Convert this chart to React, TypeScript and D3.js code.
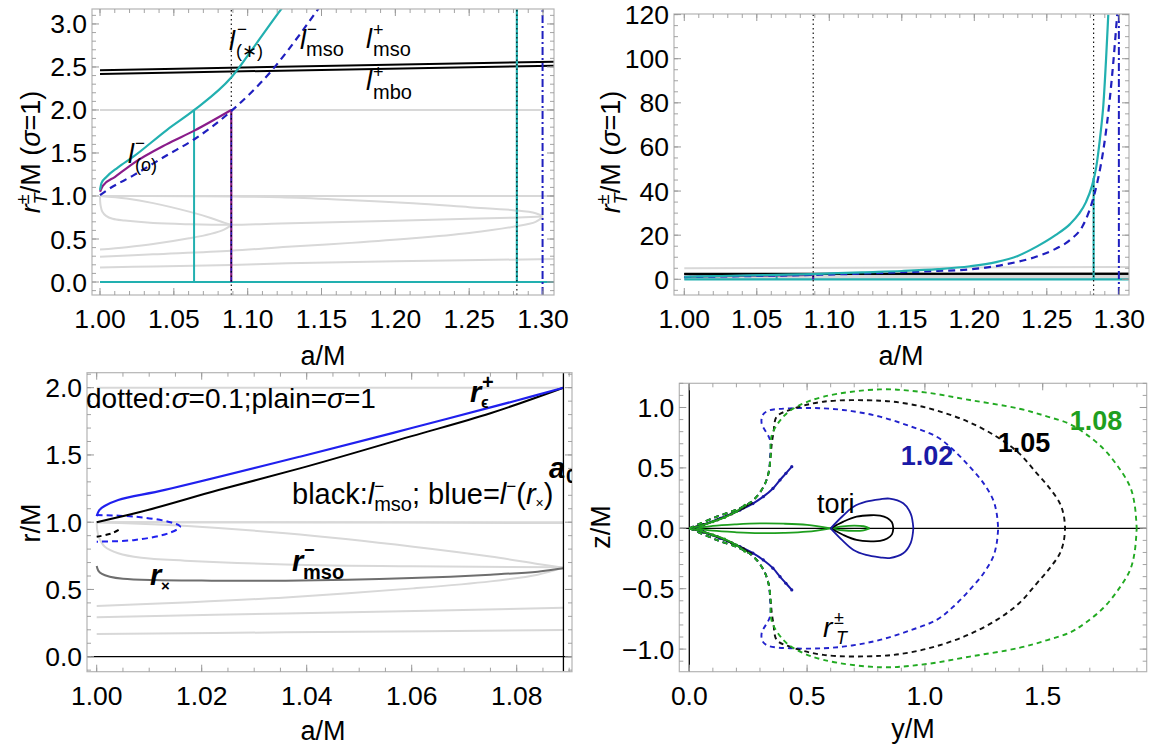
import React from "react";
import * as d3 from "d3";

type Pt = [number, number];
const zip = (xs: number[], ys: number[]): Pt[] => xs.map((x, i) => [x, ys[i]]);

// ---------------- Top panels: r_T/M (sigma=1) vs a/M ----------------
const aCyan = [1.0, 1.001, 1.0045, 1.012, 1.0226, 1.0452, 1.0639, 1.089, 1.106, 1.1226, 1.15, 1.175, 1.197, 1.215, 1.23, 1.243, 1.256, 1.266, 1.272, 1.277, 1.281, 1.284, 1.2867, 1.289, 1.2924];
const rCyan = [1.07, 1.15, 1.224, 1.33, 1.457, 1.767, 2.0, 2.38, 2.775, 3.17, 3.75, 4.6, 5.9, 7.8, 10.6, 14.8, 20.0, 25.0, 29.5, 35.0, 42.0, 50.5, 64.0, 79.0, 120.0];
const aDash = [1.0, 1.005, 1.0226, 1.045, 1.0639, 1.089, 1.1166, 1.1354, 1.1476, 1.175, 1.197, 1.22, 1.243, 1.256, 1.266, 1.275, 1.281, 1.285, 1.289, 1.2925, 1.296, 1.2986];
const rDash = [1.01, 1.07, 1.24, 1.47, 1.66, 1.99, 2.465, 2.88, 3.17, 3.8, 4.5, 6.6, 10.3, 13.8, 17.8, 24.5, 34.4, 44.5, 58.6, 76.0, 99.4, 120.5];
const aPurple = [1.0, 1.002, 1.01, 1.0226, 1.045, 1.0639, 1.0889];
const rPurple = [1.05, 1.12, 1.22, 1.38, 1.6, 1.76, 2.0];
const aLplus = [1.0, 1.3074];
const rLmsoPlus = [2.462, 2.562];
const rLmboPlus = [2.419, 2.515];
const a0 = 1.0889;
const aCyanJump = 1.0637;
const aCyanEnd = 1.2823;
const rCyanEnd = 46;
const aDashEnd = 1.2997;

// light gray reference curves (shared by the a/M panels)
const grayLevels = [1.0, 2.0];
const grayAa = [1.0, 1.03, 1.06, 1.09, 1.122, 1.16, 1.212, 1.25, 1.28, 1.295, 1.3];
const grayAr = [1.0, 0.999, 0.997, 0.993, 0.985, 0.96, 0.915, 0.87, 0.835, 0.8, 0.762];
const grayBa = [1.0, 1.018, 1.036, 1.0603, 1.075, 1.084, 1.0889];
const grayBr = [1.0, 0.97, 0.917, 0.818, 0.745, 0.69, 0.662];
const grayCa = [1.0, 1.0001, 1.0004, 1.0015, 1.0041, 1.0085, 1.0168, 1.036, 1.06, 1.0889, 1.122, 1.2, 1.25, 1.28, 1.3];
const grayCr = [1.0, 0.94, 0.89, 0.82, 0.769, 0.735, 0.714, 0.686, 0.672, 0.665, 0.68, 0.712, 0.735, 0.748, 0.762];
const grayDa = [1.0, 1.018, 1.036, 1.0603, 1.075, 1.084, 1.0889];
const grayDr = [0.377, 0.405, 0.441, 0.508, 0.56, 0.61, 0.662];
const grayEa = [1.0, 1.036, 1.0889, 1.127, 1.17, 1.212, 1.25, 1.28, 1.295, 1.3];
const grayEr = [0.293, 0.322, 0.364, 0.41, 0.455, 0.508, 0.57, 0.643, 0.7, 0.762];
const grayFa = [1.0, 1.036, 1.0889, 1.127, 1.2, 1.3074];
const grayFr = [0.169, 0.181, 0.198, 0.217, 0.24, 0.268];
const grayGa = [1.0, 1.3067];
const grayGr = [5.0, 5.6];

// ---------------- Bottom-left panel: r/M vs a/M ----------------
const rxA = [1.0, 1.0003, 1.001, 1.0025, 1.005, 1.011, 1.02, 1.036, 1.06, 1.075, 1.084, 1.0889];
const rxR = [0.674, 0.64, 0.615, 0.595, 0.58, 0.57, 0.566, 0.565, 0.585, 0.61, 0.632, 0.657];
const blueA = [1.0, 1.0005, 1.0015, 1.0041, 1.013, 1.0387, 1.06, 1.08, 1.0889];
const blueR = [1.045, 1.09, 1.12, 1.165, 1.24, 1.487, 1.7, 1.905, 2.0];
const blackA = [1.0, 1.0073, 1.0232, 1.0387, 1.06, 1.075, 1.0889];
const blackR = [1.0, 1.066, 1.239, 1.4, 1.64, 1.81, 2.0];
const loopA = [1.0, 1.0073, 1.0136, 1.0159, 1.0136, 1.0073, 1.0];
const loopR = [1.053, 1.041, 1.004, 0.967, 0.917, 0.868, 0.855];
const smallA = [1.0, 1.0029, 1.0046];
const smallR = [0.892, 0.917, 0.952];

// ---------------- Bottom-right panel: z/M vs y/M (upper halves) ----------------
const d102y = [0, 0.116, 0.215, 0.272, 0.315, 0.336, 0.343, 0.3425, 0.307, 0.312, 0.335, 0.427, 0.569, 0.69, 0.809, 0.93, 1.05, 1.12, 1.19, 1.25, 1.29, 1.305, 1.311];
const d102z = [0, 0.096, 0.166, 0.234, 0.344, 0.455, 0.593, 0.731, 0.869, 0.938, 0.973, 0.993, 0.993, 0.97, 0.924, 0.85, 0.758, 0.65, 0.51, 0.37, 0.234, 0.12, 0];
const d105y = [0, 0.116, 0.215, 0.272, 0.315, 0.336, 0.345, 0.35, 0.357, 0.371, 0.427, 0.569, 0.81, 0.93, 1.05, 1.18, 1.305, 1.4, 1.475, 1.53, 1.573, 1.59, 1.595];
const d105z = [0, 0.096, 0.166, 0.234, 0.344, 0.455, 0.59, 0.7, 0.786, 0.924, 0.98, 1.048, 1.056, 1.03, 0.975, 0.885, 0.758, 0.62, 0.455, 0.33, 0.207, 0.1, 0];
const d108y = [0, 0.116, 0.215, 0.272, 0.315, 0.336, 0.345, 0.35, 0.399, 0.456, 0.569, 0.809, 1.0, 1.191, 1.4, 1.52, 1.616, 1.68, 1.757, 1.82, 1.871, 1.89, 1.899];
const d108z = [0, 0.096, 0.166, 0.234, 0.344, 0.455, 0.59, 0.77, 0.924, 1.007, 1.089, 1.15, 1.125, 1.062, 0.99, 0.925, 0.862, 0.785, 0.66, 0.51, 0.344, 0.2, 0];
const m102y = [0, 0.06, 0.131, 0.215, 0.27, 0.314, 0.355, 0.385, 0.41, 0.435];
const m102z = [0, 0.03, 0.083, 0.151, 0.205, 0.262, 0.33, 0.4, 0.455, 0.51];
const m105y = [0, 0.06, 0.12, 0.18, 0.23, 0.262];
const m105z = [0, 0.03, 0.07, 0.12, 0.17, 0.21];
const m108y = [0, 0.05, 0.1, 0.15, 0.2, 0.236];
const m108z = [0, 0.022, 0.055, 0.09, 0.14, 0.19];
const t108ay = [0.03, 0.1, 0.2, 0.3, 0.4, 0.5, 0.6];
const t108az = [0, 0.02, 0.033, 0.04, 0.038, 0.028, 0];
const t108by = [0.6, 0.65, 0.7, 0.74, 0.765];
const t108bz = [0, 0.016, 0.022, 0.017, 0];
const t105y = [0.6, 0.654, 0.71, 0.77, 0.81, 0.84, 0.86, 0.866];
const t105z = [0, 0.055, 0.096, 0.108, 0.105, 0.085, 0.05, 0];
const t102y = [0.6, 0.65, 0.697, 0.75, 0.809, 0.85, 0.908, 0.94, 0.951];
const t102z = [0, 0.1, 0.179, 0.22, 0.24, 0.246, 0.207, 0.12, 0];

const FONT = "'Liberation Sans', Arial, Helvetica, sans-serif";
const TICKFS = 26.5;
const CYAN = "#22b0b0";
const PURPLE = "#8a1c8a";
const DBLUE = "#1f1fbf";
const GRAY = "#d8d8d8";
const GREEN = "#1f9f1f";
const NAVY = "#1a1aa6";

function tickVals(lo: number, hi: number, step: number) {
  const out: number[] = [];
  const n0 = Math.ceil(lo / step - 1e-9);
  const n1 = Math.floor(hi / step + 1e-9);
  for (let i = n0; i <= n1; i++) out.push(+(i * step).toFixed(6));
  return out;
}

type Sc = d3.ScaleLinear<number, number>;

function Frame(props: { sx: Sc; sy: Sc; xMaj: number; xMin: number; yMaj: number; yMin: number; xFmt: string; yFmt: string }) {
  const { sx, sy, xMaj, xMin, yMaj, yMin } = props;
  const [x0, x1] = sx.range();
  const [y0, y1] = sy.range();
  const [dx0, dx1] = sx.domain();
  const [dy0, dy1] = sy.domain();
  const fx = d3.format(props.xFmt);
  const fy = d3.format(props.yFmt);
  const majX = tickVals(dx0, dx1, xMaj);
  const minX = tickVals(dx0, dx1, xMin);
  const majY = tickVals(dy0, dy1, yMaj);
  const minY = tickVals(dy0, dy1, yMin);
  const tc = "#9a9a9a";
  const L = 7, l = 4;
  return (
    <g>
      <rect x={x0} y={y1} width={x1 - x0} height={y0 - y1} fill="none" stroke="#b4b4b4" strokeWidth={1.2} />
      {minX.map((v, i) => (
        <g key={"mx" + i} stroke={tc} strokeWidth={0.9}>
          <line x1={sx(v)} x2={sx(v)} y1={y0} y2={y0 - l} />
          <line x1={sx(v)} x2={sx(v)} y1={y1} y2={y1 + l} />
        </g>
      ))}
      {majX.map((v, i) => (
        <g key={"Mx" + i}>
          <line x1={sx(v)} x2={sx(v)} y1={y0} y2={y0 - L} stroke={tc} strokeWidth={1} />
          <line x1={sx(v)} x2={sx(v)} y1={y1} y2={y1 + L} stroke={tc} strokeWidth={1} />
          <text x={sx(v)} y={y0 + 33} textAnchor="middle" fontSize={TICKFS}>{fx(v)}</text>
        </g>
      ))}
      {minY.map((v, i) => (
        <g key={"my" + i} stroke={tc} strokeWidth={0.9}>
          <line y1={sy(v)} y2={sy(v)} x1={x0} x2={x0 + l} />
          <line y1={sy(v)} y2={sy(v)} x1={x1} x2={x1 - l} />
        </g>
      ))}
      {majY.map((v, i) => (
        <g key={"My" + i}>
          <line y1={sy(v)} y2={sy(v)} x1={x0} x2={x0 + L} stroke={tc} strokeWidth={1} />
          <line y1={sy(v)} y2={sy(v)} x1={x1} x2={x1 - L} stroke={tc} strokeWidth={1} />
          <text x={x0 - 5} y={sy(v) + 9.5} textAnchor="end" fontSize={TICKFS}>{fy(v)}</text>
        </g>
      ))}
    </g>
  );
}

function mkLine(sx: Sc, sy: Sc) {
  return d3.line<Pt>().x((d) => sx(d[0])).y((d) => sy(d[1])).curve(d3.curveCatmullRom.alpha(0.5));
}
function mkMono(sx: Sc, sy: Sc) {
  return d3.line<Pt>().x((d) => sx(d[0])).y((d) => sy(d[1])).curve(d3.curveMonotoneX);
}

function TopContent({ sx, sy }: { sx: Sc; sy: Sc }) {
  const ln = mkLine(sx, sy);
  const mono = mkMono(sx, sy);
  const [, xr] = sx.domain();
  const [yb, yt] = sy.domain();
  const grays = [zip(grayAa, grayAr), zip(grayBa, grayBr), zip(grayCa, grayCr), zip(grayDa, grayDr), zip(grayEa, grayEr), zip(grayFa, grayFr), zip(grayGa, grayGr)];
  return (
    <g fill="none">
      {grayLevels.map((v, i) => (
        <path key={"gl" + i} d={ln([[1.0, v], [xr, v]]) || ""} stroke={GRAY} strokeWidth={2} />
      ))}
      {grays.map((g, i) => (
        <path key={"g" + i} d={ln(g) || ""} stroke={GRAY} strokeWidth={2} />
      ))}
      <path d={ln(zip(aLplus, rLmsoPlus)) || ""} stroke="#000" strokeWidth={2} />
      <path d={ln(zip(aLplus, rLmboPlus)) || ""} stroke="#000" strokeWidth={2} />
      <path d={ln([[1.0, 0], [xr, 0]]) || ""} stroke={CYAN} strokeWidth={2.2} />
      <path d={ln([[aCyanJump, 0], [aCyanJump, 2.0]]) || ""} stroke={CYAN} strokeWidth={2} />
      <path d={ln([[aCyanEnd, 0], [aCyanEnd, rCyanEnd]]) || ""} stroke={CYAN} strokeWidth={2.2} />
      <path d={ln([[a0, 0], [a0, 2.0]]) || ""} stroke={PURPLE} strokeWidth={2.2} />
      <path d={ln([[a0, 0], [a0, 2.0]]) || ""} stroke={DBLUE} strokeWidth={1.2} strokeDasharray="5,4" />
      <path d={ln([[a0, yb], [a0, yt]]) || ""} stroke="#000" strokeWidth={1.1} strokeDasharray="1.5,3" />
      <path d={ln([[aCyanEnd, yb], [aCyanEnd, yt]]) || ""} stroke="#000" strokeWidth={1.1} strokeDasharray="1.5,3" />
      <path d={ln([[aDashEnd, yb], [aDashEnd, yt]]) || ""} stroke={DBLUE} strokeWidth={2} strokeDasharray="8,3,2,3" />
      <path d={mono(zip(aPurple, rPurple)) || ""} stroke={PURPLE} strokeWidth={2.2} />
      <path d={mono(zip(aDash, rDash)) || ""} stroke={DBLUE} strokeWidth={2.2} strokeDasharray="7,5" />
      <path d={mono(zip(aCyan, rCyan)) || ""} stroke={CYAN} strokeWidth={2.2} />
    </g>
  );
}

function BLContent({ sx, sy }: { sx: Sc; sy: Sc }) {
  const ln = mkLine(sx, sy);
  const mono = mkMono(sx, sy);
  const grays = [zip(grayAa, grayAr), zip(grayBa, grayBr), zip(grayCa, grayCr), zip(grayDa, grayDr), zip(grayEa, grayEr), zip(grayFa, grayFr)];
  return (
    <g fill="none">
      {grayLevels.map((v, i) => (
        <path key={"gl" + i} d={ln([[1.0, v], [a0, v]]) || ""} stroke={GRAY} strokeWidth={2} />
      ))}
      {grays.map((g, i) => (
        <path key={"g" + i} d={ln(g) || ""} stroke={GRAY} strokeWidth={2} />
      ))}
      <path d={ln(zip(rxA, rxR)) || ""} stroke="#6e6e6e" strokeWidth={2} />
      <path d={ln(zip(loopA, loopR)) || ""} stroke="#2020ee" strokeWidth={2} strokeDasharray="6,4" />
      <path d={ln(zip(smallA, smallR)) || ""} stroke="#000" strokeWidth={2} strokeDasharray="5,4" />
      <path d={mono(zip(blackA, blackR)) || ""} stroke="#000" strokeWidth={2} />
      <path d={ln(zip(blueA, blueR)) || ""} stroke="#2020ee" strokeWidth={2.2} />
    </g>
  );
}

function BRContent({ sx, sy }: { sx: Sc; sy: Sc }) {
  const ln = mkLine(sx, sy);
  const both = (y: number[], z: number[]): Pt[][] => [zip(y, z), zip(y, z.map((v) => -v))];
  const dashed: [number[], number[], string][] = [
    [d102y, d102z, "#2222cc"],
    [d105y, d105z, "#111"],
    [d108y, d108z, "#22aa22"],
  ];
  const marks: [number[], number[], string][] = [
    [m102y, m102z, NAVY],
    [m105y, m105z, "#111"],
    [m108y, m108z, GREEN],
  ];
  const tori: [number[], number[], string][] = [
    [t108ay, t108az, GREEN],
    [t108by, t108bz, GREEN],
    [t105y, t105z, "#000"],
    [t102y, t102z, NAVY],
  ];
  return (
    <g fill="none">
      {tori.map(([y, z, c], i) =>
        both(y, z).map((p, j) => <path key={"t" + i + j} d={ln(p) || ""} stroke={c} strokeWidth={1.8} />)
      )}
      {marks.map(([y, z, c], i) =>
        both(y, z).map((p, j) => (
          <g key={"m" + i + j}>
            <path d={ln(p) || ""} stroke={c} strokeWidth={2} />
            {p.slice(1).map((q, k) => (
              <circle key={k} cx={sx(q[0])} cy={sy(q[1])} r={1.6} fill={c} stroke="none" />
            ))}
          </g>
        ))
      )}
      {dashed.map(([y, z, c], i) =>
        both(y, z).map((p, j) => <path key={"d" + i + j} d={ln(p) || ""} stroke={c} strokeWidth={1.9} strokeDasharray="5,4" />)
      )}
    </g>
  );
}

export default function App() {
  const s1x = d3.scaleLinear().domain([0.99458, 1.30744]).range([92, 554]);
  const s1y = d3.scaleLinear().domain([-0.151, 3.174]).range([295, 9]);
  const s2x = d3.scaleLinear().domain([0.9929, 1.30669]).range([674, 1129]);
  const s2y = d3.scaleLinear().domain([-7.12, 120.27]).range([295, 14]);
  const s3x = d3.scaleLinear().domain([0.998152, 1.090533]).range([87, 572]);
  const s3y = d3.scaleLinear().domain([-0.1115, 2.1115]).range([671.7, 372.7]);
  const s4x = d3.scaleLinear().domain([-0.04244, 1.9414]).range([679.3, 1146.7]);
  const s4y = d3.scaleLinear().domain([-1.187, 1.2003]).range([671.7, 383.3]);

  const clip = (id: string, sx: Sc, sy: Sc, xmax?: number) => {
    const [x0, x1] = sx.range();
    const [y0, y1] = sy.range();
    return (
      <clipPath id={id}>
        <rect x={x0} y={y1} width={(xmax ?? x1) - x0} height={y0 - y1} />
      </clipPath>
    );
  };

  const yLabelTop = (x: number) => (
    <text transform={`translate(${x},152) rotate(-90)`} textAnchor="middle" fontSize={27}>
      <tspan fontStyle="italic">r</tspan>
      <tspan fontSize={18} dy={-11}>±</tspan>
      <tspan fontSize={18} dx={-10} dy={18} fontStyle="italic">T</tspan>
      <tspan dy={-7}>/M (</tspan>
      <tspan fontStyle="italic">σ</tspan>
      <tspan>=1)</tspan>
    </text>
  );

  return (
    <div style={{ position: "absolute", left: 0, top: 0, background: "#fff" }}>
      <svg width={1162} height={752} fontFamily={FONT} style={{ display: "block" }}>
        <defs>
          {clip("c1", s1x, s1y)}
          {clip("c2", s2x, s2y)}
          {clip("c3", s3x, s3y, s3x(a0))}
          {clip("c3f", s3x, s3y)}
          {clip("c4", s4x, s4y)}
        </defs>
        <rect width={1162} height={752} fill="#fff" />

        {/* Panel 1 */}
        <g clipPath="url(#c1)">
          <TopContent sx={s1x} sy={s1y} />
        </g>
        <Frame sx={s1x} sy={s1y} xMaj={0.05} xMin={0.01} yMaj={0.5} yMin={0.1} xFmt=".2f" yFmt=".1f" />
        {yLabelTop(40)}
        <text x={323} y={365} textAnchor="middle" fontSize={27}>a/M</text>
        <g fontSize={27}>
          <text x={229} y={50} fontStyle="italic">l</text>
          <text x={237} y={35} fontSize={17}>−</text>
          <text x={236} y={57} fontSize={18}>(∗)</text>

          <text x={300} y={49} fontStyle="italic">l</text>
          <text x={307} y={35} fontSize={17}>−</text>
          <text x={306} y={56} fontSize={20}>mso</text>

          <text x={366} y={48} fontStyle="italic">l</text>
          <text x={373} y={36} fontSize={18}>+</text>
          <text x={373} y={56} fontSize={20}>mso</text>

          <text x={366} y={90} fontStyle="italic">l</text>
          <text x={373} y={78} fontSize={18}>+</text>
          <text x={373} y={99} fontSize={20}>mbo</text>

          <text x={128} y={163} fontStyle="italic">l</text>
          <text x={135} y={149} fontSize={17}>−</text>
          <text x={135} y={171} fontSize={18}>(o)</text>
        </g>

        {/* Panel 2 */}
        <g clipPath="url(#c2)">
          <TopContent sx={s2x} sy={s2y} />
        </g>
        <Frame sx={s2x} sy={s2y} xMaj={0.05} xMin={0.01} yMaj={20} yMin={5} xFmt=".2f" yFmt="d" />
        {yLabelTop(620)}
        <text x={901} y={365} textAnchor="middle" fontSize={27}>a/M</text>

        {/* Panel 3 */}
        <g clipPath="url(#c3)">
          <BLContent sx={s3x} sy={s3y} />
        </g>
        <g clipPath="url(#c3f)" fill="none" stroke="#000" strokeWidth={1.3}>
          <line x1={s3x.range()[0]} x2={s3x.range()[1]} y1={s3y(0)} y2={s3y(0)} />
          <line x1={s3x(a0)} x2={s3x(a0)} y1={s3y.range()[0]} y2={s3y.range()[1]} />
        </g>
        <Frame sx={s3x} sy={s3y} xMaj={0.02} xMin={0.005} yMaj={0.5} yMin={0.1} xFmt=".2f" yFmt=".1f" />
        <text transform="translate(40,523) rotate(-90)" textAnchor="middle" fontSize={27}>r/M</text>
        <text x={323} y={740} textAnchor="middle" fontSize={27}>a/M</text>
        <g fontSize={28}>
          <text x={86} y={408}>
            <tspan>dotted:</tspan>
            <tspan fontStyle="italic">σ</tspan>
            <tspan>=0.1;plain=</tspan>
            <tspan fontStyle="italic">σ</tspan>
            <tspan>=1</tspan>
          </text>
          <text x={292} y={504} fontSize={29}>
            <tspan>black:</tspan>
            <tspan fontStyle="italic">l</tspan>
            <tspan fontSize={17} dy={-12}>−</tspan>
            <tspan fontSize={20} dx={-10} dy={19}>mso</tspan>
            <tspan dy={-7}>; blue=</tspan>
            <tspan fontStyle="italic">l</tspan>
            <tspan fontSize={17} dy={-12}>−</tspan>
            <tspan dy={12}>(</tspan>
            <tspan fontStyle="italic">r</tspan>
            <tspan fontSize={14} dy={4}>×</tspan>
            <tspan dy={-4}>)</tspan>
          </text>
        </g>
        <g fontWeight="bold">
          <text x={470} y={402} fontSize={29} fontStyle="italic">r</text>
          <text x={482} y={389} fontSize={20}>+</text>
          <text x={481} y={408} fontSize={16}>ϵ</text>

          <g clipPath="url(#c3f)">
            <text x={549} y={478} fontSize={29} fontStyle="italic">a</text>
            <text x={566} y={483} fontSize={20}>0</text>
          </g>

          <text x={292} y={571} fontSize={29} fontStyle="italic">r</text>
          <text x={304} y={556} fontSize={18}>−</text>
          <text x={303} y={579} fontSize={20}>mso</text>

          <text x={150} y={585} fontSize={29} fontStyle="italic">r</text>
          <text x={161} y={591} fontSize={15}>×</text>
        </g>

        {/* Panel 4 */}
        <g clipPath="url(#c4)">
          <line x1={s4x.range()[0]} x2={s4x.range()[1]} y1={s4y(0)} y2={s4y(0)} stroke="#000" strokeWidth={1.3} />
          <line x1={s4x(0)} x2={s4x(0)} y1={s4y.range()[0]} y2={s4y.range()[1]} stroke="#000" strokeWidth={1.3} />
          <BRContent sx={s4x} sy={s4y} />
        </g>
        <Frame sx={s4x} sy={s4y} xMaj={0.5} xMin={0.1} yMaj={0.5} yMin={0.1} xFmt=".1f" yFmt=".1f" />
        <text transform="translate(610,527) rotate(-90)" textAnchor="middle" fontSize={27}>z/M</text>
        <text x={913} y={738} textAnchor="middle" fontSize={27}>y/M</text>
        <g fontWeight="bold" fontSize={27} textAnchor="middle">
          <text x={927} y={465} fill={NAVY}>1.02</text>
          <text x={1024} y={452} fill="#000">1.05</text>
          <text x={1096} y={430} fill={GREEN}>1.08</text>
        </g>
        <text x={817} y={513} fontSize={27}>tori</text>
        <text x={823} y={637} fontSize={28} fontStyle="italic">r</text>
        <text x={834} y={624} fontSize={18}>±</text>
        <text x={836} y={644} fontSize={18} fontStyle="italic">T</text>
      </svg>
    </div>
  );
}
